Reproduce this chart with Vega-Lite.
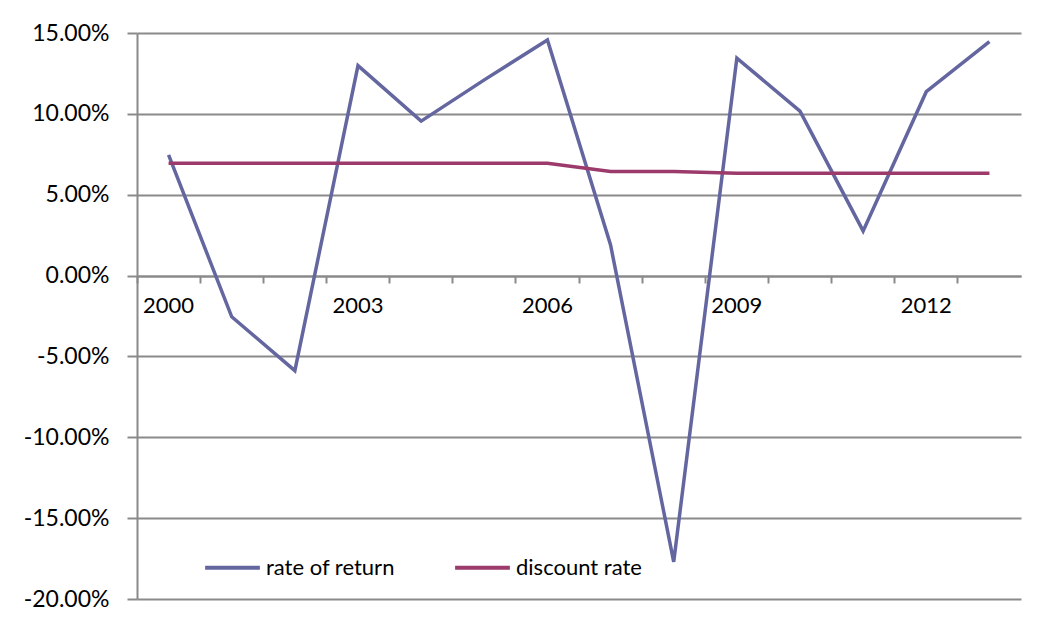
{
  "$schema": "https://vega.github.io/schema/vega-lite/v6.json",
  "width": 884,
  "height": 566,
  "autosize": {"type": "none"},
  "padding": {"left": 137, "top": 33, "right": 18, "bottom": 27},
  "background": "white",
  "config": {
    "view": {"stroke": null},
    "font": "Lato",
    "axis": {"labelFont": "Lato", "labelColor": "#000000"},
    "legend": {"labelFont": "Lato"}
  },
  "data": {
    "values": [
      {"year": 2000, "series": "rate of return", "value": 0.0746},
      {"year": 2001, "series": "rate of return", "value": -0.0255},
      {"year": 2002, "series": "rate of return", "value": -0.0588},
      {"year": 2003, "series": "rate of return", "value": 0.1298},
      {"year": 2004, "series": "rate of return", "value": 0.0955},
      {"year": 2005, "series": "rate of return", "value": 0.121},
      {"year": 2006, "series": "rate of return", "value": 0.1457},
      {"year": 2007, "series": "rate of return", "value": 0.0189},
      {"year": 2008, "series": "rate of return", "value": -0.177},
      {"year": 2009, "series": "rate of return", "value": 0.1345},
      {"year": 2010, "series": "rate of return", "value": 0.1017},
      {"year": 2011, "series": "rate of return", "value": 0.0276},
      {"year": 2012, "series": "rate of return", "value": 0.1137},
      {"year": 2013, "series": "rate of return", "value": 0.1446},
      {"year": 2000, "series": "discount rate", "value": 0.0694},
      {"year": 2001, "series": "discount rate", "value": 0.0694},
      {"year": 2002, "series": "discount rate", "value": 0.0694},
      {"year": 2003, "series": "discount rate", "value": 0.0694},
      {"year": 2004, "series": "discount rate", "value": 0.0694},
      {"year": 2005, "series": "discount rate", "value": 0.0694},
      {"year": 2006, "series": "discount rate", "value": 0.0694},
      {"year": 2007, "series": "discount rate", "value": 0.0643},
      {"year": 2008, "series": "discount rate", "value": 0.0643},
      {"year": 2009, "series": "discount rate", "value": 0.0633},
      {"year": 2010, "series": "discount rate", "value": 0.0633},
      {"year": 2011, "series": "discount rate", "value": 0.0633},
      {"year": 2012, "series": "discount rate", "value": 0.0633},
      {"year": 2013, "series": "discount rate", "value": 0.0633}
    ]
  },
  "mark": {"type": "line", "strokeWidth": 3.5, "strokeJoin": "miter"},
  "encoding": {
    "x": {
      "field": "year",
      "type": "ordinal",
      "bandPosition": 0.5,
      "scale": {"type": "band", "paddingInner": 0, "paddingOuter": 0},
      "axis": {
        "title": null,
        "orient": "bottom",
        "offset": -323,
        "bandPosition": 0,
        "labelAngle": 0,
        "labelExpr": "(datum.value - 2000) % 3 == 0 ? datum.label : ''",
        "labelFontSize": 22,
        "labelPadding": 12,
        "tickSize": 7,
        "tickColor": "#8a8a8a",
        "tickWidth": 2,
        "domainColor": "#8a8a8a",
        "domainWidth": 2,
        "grid": false
      }
    },
    "y": {
      "field": "value",
      "type": "quantitative",
      "scale": {"domain": [-0.2, 0.15], "nice": false, "zero": false},
      "axis": {
        "title": null,
        "values": [-0.2, -0.15, -0.1, -0.05, 0, 0.05, 0.1, 0.15],
        "labelExpr": "replace(format(datum.value, '.2%'), '\u2212', '-')",
        "labelFontSize": 23,
        "labelPadding": 18,
        "tickSize": 10,
        "tickColor": "#8a8a8a",
        "tickWidth": 2,
        "domainColor": "#8a8a8a",
        "domainWidth": 2,
        "grid": true,
        "gridColor": "#8a8a8a",
        "gridWidth": 2
      }
    },
    "color": {
      "field": "series",
      "type": "nominal",
      "scale": {"domain": ["rate of return", "discount rate"], "range": ["#6466A0", "#9B3A6B"]},
      "legend": {
        "title": null,
        "orient": "none",
        "direction": "horizontal",
        "legendX": 66,
        "legendY": 505,
        "symbolType": "stroke",
        "symbolSize": 3000,
        "symbolStrokeWidth": 4,
        "labelFontSize": 22,
        "labelOffset": 4,
        "columnPadding": 52
      }
    }
  }
}
